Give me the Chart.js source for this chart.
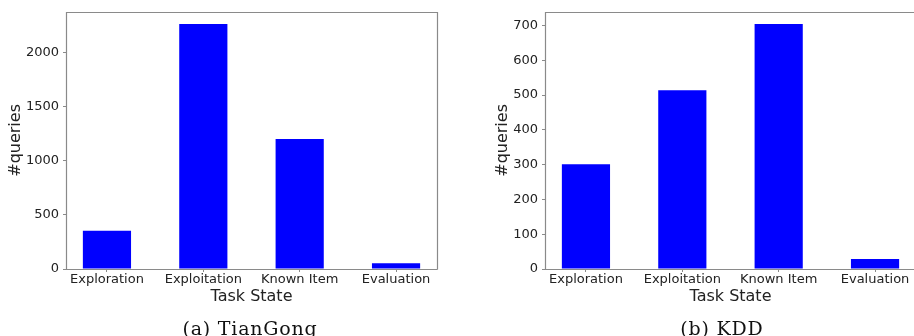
<!DOCTYPE html>
<html>
<head>
<meta charset="utf-8">
<script src="https://cdn.jsdelivr.net/npm/chart.js@4/dist/chart.umd.min.js"></script>
<style>
    html, body { margin: 0; padding: 0; background: #fff; }
    #wrap { width: 914px; height: 336px; position: relative; overflow: hidden; }
    .panel { position: absolute; top: 0; height: 336px; }
    .caption {
        position: absolute; top: 319px; line-height: 19px;
        font-family: "DejaVu Serif", serif; font-size: 19px; letter-spacing: 0.8px;
        color: #111; white-space: nowrap; transform: translateX(-50%);
    }
</style>
</head>
<body>
<div id="wrap">
    <div class="panel" style="left:0; width:460px"><canvas id="tiangong" width="460" height="336"></canvas></div>
    <div class="panel" style="left:480px; width:470px"><canvas id="kdd" width="470" height="336"></canvas></div>
    <div class="caption" style="left:250px">(a) TianGong</div>
    <div class="caption" style="left:722px">(b) KDD</div>
</div>
<script>
    // ---- data ----
    const categories = ['Exploration', 'Exploitation', 'Known Item', 'Evaluation'];
    const tiangongQueries = [354, 2262, 1200, 52];
    const kddQueries = [301, 514, 704, 29];
    const tiangongStep = 500;
    const kddStep = 100;

    const GRAY = '#8a8a8a';
    const TEXT = '#222';

    // matplotlib-like frame round the plot area
    function framePlugin(drawRight) {
        return {
            id: 'frame',
            afterDraw(chart) {
                const { ctx, chartArea: a } = chart;
                const l = Math.round(a.left) + 0.5, r = Math.round(a.right) + 0.5;
                const t = Math.round(a.top) + 0.5, b = Math.round(a.bottom) + 0.5;
                ctx.save();
                ctx.strokeStyle = GRAY;
                ctx.lineWidth = 1.2;
                ctx.beginPath();
                ctx.moveTo(r, b);
                ctx.lineTo(l, b);
                ctx.lineTo(l, t);
                ctx.lineTo(r, t);
                if (drawRight) ctx.lineTo(r, b);
                ctx.stroke();
                ctx.restore();
            }
        };
    }

    function makeChart(id, values, step, opts) {
        const yMax = Math.max(...values) * 1.05;
        return new Chart(document.getElementById(id), {
            type: 'bar',
            data: {
                datasets: [{
                    data: values.map((v, i) => ({ x: i, y: v })),
                    backgroundColor: '#0000ff',
                    borderWidth: 0,
                    categoryPercentage: 1,
                    barPercentage: 0.5
                }]
            },
            options: {
                responsive: false,
                animation: false,
                layout: { padding: { top: 10, right: opts.padRight, bottom: 29.4, left: 0 } },
                plugins: { legend: { display: false }, tooltip: { enabled: false } },
                scales: {
                    x: {
                        type: 'linear',
                        min: -0.425,
                        max: categories.length - 1 + 0.425,
                        offset: false,
                        afterBuildTicks: s => { s.ticks = categories.map((c, i) => ({ value: i })); },
                        afterFit: s => { s.height = 37.6; },
                        border: { display: false },
                        grid: { drawOnChartArea: false, offset: false, tickLength: 3, color: GRAY },
                        ticks: {
                            padding: 0,
                            autoSkip: false,
                            maxRotation: 0,
                            color: TEXT,
                            font: { family: 'DejaVu Sans', size: 13 },
                            callback: v => categories[v]
                        },
                        title: {
                            display: true,
                            text: 'Task State',
                            color: TEXT,
                            padding: 0,
                            font: { family: 'DejaVu Sans', size: 16 }
                        }
                    },
                    y: {
                        min: 0,
                        max: yMax,
                        afterBuildTicks: s => {
                            const t = [];
                            for (let v = 0; v <= yMax; v += step) t.push({ value: v });
                            s.ticks = t;
                        },
                        afterFit: s => { s.width = opts.axisWidth; },
                        border: { display: false },
                        grid: { drawOnChartArea: false, tickLength: 3, color: GRAY },
                        ticks: {
                            padding: 4,
                            color: TEXT,
                            font: { family: 'DejaVu Sans', size: 13 },
                            callback: v => String(v)
                        },
                        title: {
                            display: true,
                            text: '#queries',
                            color: TEXT,
                            padding: { top: opts.titlePad, bottom: 0 },
                            font: { family: 'DejaVu Sans', size: 16 }
                        }
                    }
                }
            },
            plugins: [framePlugin(opts.drawRight)]
        });
    }

    makeChart('tiangong', tiangongQueries, tiangongStep, { axisWidth: 66, padRight: 23, titlePad: 6, drawRight: true });
    makeChart('kdd', kddQueries, kddStep, { axisWidth: 65, padRight: 34, titlePad: 13.4, drawRight: false });
</script>
</body>
</html>
